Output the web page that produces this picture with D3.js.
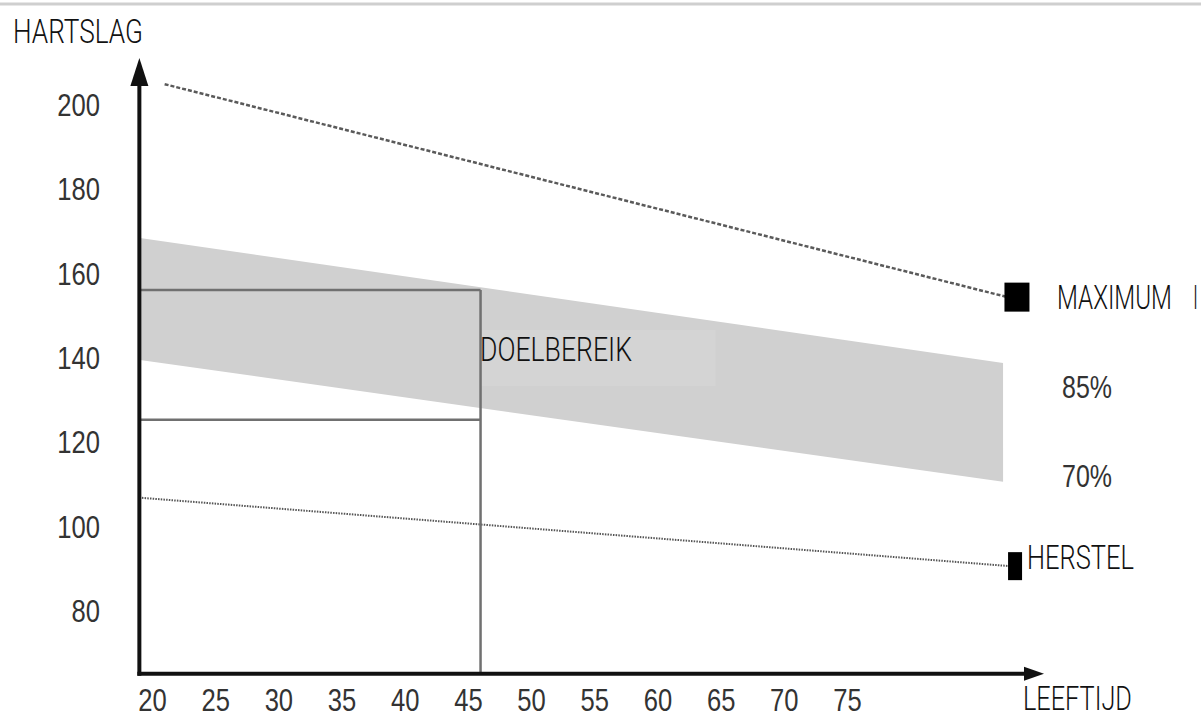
<!DOCTYPE html>
<html>
<head>
<meta charset="utf-8">
<script src="https://cdn.jsdelivr.net/npm/d3@7"></script>
<style>
  body { margin: 0; background: #fff; }
  svg { display: block; }
  .tick text { fill: #333; }
</style>
</head>
<body>
<div id="chart"></div>
<script>
// data (age in years, heart rate in bpm)
const ageTicks = [20, 25, 30, 35, 40, 45, 50, 55, 60, 65, 70, 75];
const bpmTicks = [80, 100, 120, 140, 160, 180, 200];

const maxLine = [[21.0, 204.7], [87.7, 154.2]];
const herstelLine = [[19.2, 106.6], [87.9, 90.4]];

const bandAges = [19.05, 87.35];
const bandTop = [168.2, 138.6];     // 85%
const bandBottom = [139.3, 110.4];  // 70%

const doelAge = 46.0;
const doelHigh = 155.9;
const doelLow = 125.1;

const maxMarker = [88.45, 154.2];
const herstelMarker = [88.3, 90.4];

const width = 1201;
const height = 720;

const svg = d3.select("#chart")
    .append("svg")
    .attr("width", width)
    .attr("height", height);

const x = d3.scaleLinear().domain([20, 75]).range([152, 847]);
const y = d3.scaleLinear().domain([80, 200]).range([610, 104]);

const ageMin = 19.0;   // where the y axis sits
const bpmMin = 64.9;   // where the x axis sits

const labelFont = "Roboto, 'Open Sans', sans-serif";
const numFont = "'Liberation Sans Narrow', 'Liberation Sans', Arial, sans-serif";

// thin grey rule along the top
svg.append("line")
    .attr("x1", 0).attr("x2", width)
    .attr("y1", 4).attr("y2", 4)
    .attr("stroke", "#cfcfcf")
    .attr("stroke-width", 3);

// target zone band
const band = bandAges.map((a, i) => ({ age: a, top: bandTop[i], bottom: bandBottom[i] }));
svg.append("path")
    .datum(band)
    .attr("fill", "#d0d0d0")
    .attr("d", d3.area()
        .x(d => x(d.age))
        .y0(d => y(d.bottom))
        .y1(d => y(d.top)));

// label box, slightly lighter
svg.append("rect")
    .attr("x", x(doelAge))
    .attr("y", 330)
    .attr("width", 235)
    .attr("height", 56)
    .attr("fill", "#d4d4d4");

// maximum (dashed) and recovery (dotted) lines
const line = d3.line().x(d => x(d[0])).y(d => y(d[1]));

svg.append("path")
    .datum(maxLine)
    .attr("d", line)
    .attr("fill", "none")
    .attr("stroke", "#5a5a5a")
    .attr("stroke-width", 2.5)
    .attr("stroke-dasharray", "4,2");

svg.append("path")
    .datum(herstelLine)
    .attr("d", line)
    .attr("fill", "none")
    .attr("stroke", "#555")
    .attr("stroke-width", 2)
    .attr("stroke-dasharray", "1.5,1.2");

// age 40 example box
const guide = svg.append("g")
    .attr("stroke", "#707070")
    .attr("stroke-width", 2.5)
    .attr("fill", "none");

guide.append("line")
    .attr("x1", x(ageMin)).attr("x2", x(doelAge))
    .attr("y1", y(doelHigh)).attr("y2", y(doelHigh));
guide.append("line")
    .attr("x1", x(ageMin)).attr("x2", x(doelAge))
    .attr("y1", y(doelLow)).attr("y2", y(doelLow));
guide.append("line")
    .attr("x1", x(doelAge)).attr("x2", x(doelAge))
    .attr("y1", y(doelHigh)).attr("y2", y(bpmMin));

// markers
svg.append("rect")
    .attr("x", x(maxMarker[0]) - 12.5)
    .attr("y", y(maxMarker[1]) - 14.5)
    .attr("width", 25).attr("height", 29)
    .attr("fill", "#000");

svg.append("rect")
    .attr("x", x(herstelMarker[0]) - 7)
    .attr("y", y(herstelMarker[1]) - 14)
    .attr("width", 14).attr("height", 28)
    .attr("fill", "#000");

// axes lines with arrow heads
const axisG = svg.append("g");
const x0 = x(ageMin), y0 = y(bpmMin);

axisG.append("line")
    .attr("x1", x0).attr("x2", x0)
    .attr("y1", y0 + 2).attr("y2", 80)
    .attr("stroke", "#111").attr("stroke-width", 4);
axisG.append("path")
    .attr("d", `M${x0},58 L${x0 - 9},86 L${x0 + 9},86 Z`)
    .attr("fill", "#111");

axisG.append("line")
    .attr("x1", x0 - 2).attr("x2", 1028)
    .attr("y1", y0).attr("y2", y0)
    .attr("stroke", "#111").attr("stroke-width", 4);
axisG.append("path")
    .attr("d", `M1044,${y0} L1024,${y0 - 7} L1024,${y0 + 7} Z`)
    .attr("fill", "#111");

// tick labels
const xAxis = svg.append("g")
    .attr("transform", `translate(0,${y0})`)
    .call(d3.axisBottom(x).tickValues(ageTicks).tickSize(0).tickPadding(0));
xAxis.select(".domain").remove();
xAxis.selectAll("text")
    .attr("y", 37)
    .attr("dy", null)
    .attr("font-family", numFont)
    .attr("font-size", 32)
    .attr("transform", "scale(0.8,1)");

const yAxis = svg.append("g")
    .attr("transform", "translate(100,0)")
    .call(d3.axisLeft(y).tickValues(bpmTicks).tickSize(0).tickPadding(0));
yAxis.select(".domain").remove();
yAxis.selectAll("text")
    .attr("x", 0)
    .attr("dy", "0.36em")
    .attr("font-family", numFont)
    .attr("font-size", 32)
    .attr("transform", "scale(0.8,1)");

// labels, squeezed horizontally to the narrow look of the original
const labels = [
  { text: "HARTSLAG", x: 13, y: 43, w: 130, font: labelFont },
  { text: "MAXIMUM", x: 1057, y: 309, w: 115, font: labelFont },
  { text: "I", x: 1193, y: 309, w: 5, font: labelFont },
  { text: "DOELBEREIK", x: 480, y: 361, w: 152, font: labelFont },
  { text: "HERSTEL", x: 1027, y: 569, w: 107, font: labelFont },
  { text: "LEEFTIJD", x: 1023, y: 710, w: 109, font: labelFont },
  { text: "85%", x: 1062, y: 398, w: 50, font: numFont },
  { text: "70%", x: 1062, y: 487, w: 50, font: numFont }
];

svg.selectAll(".label")
    .data(labels)
    .enter()
    .append("text")
    .attr("class", "label")
    .attr("font-family", d => d.font)
    .attr("font-weight", d => d.font === labelFont ? 300 : 400)
    .attr("font-size", d => d.font === labelFont ? 33 : 31)
    .attr("fill", d => d.font === labelFont ? "#111" : "#333")
    .text(d => d.text)
    .attr("transform", function (d) {
      const len = this.getComputedTextLength();
      return `translate(${d.x},${d.y}) scale(${d.w / len},1)`;
    });
</script>
</body>
</html>
